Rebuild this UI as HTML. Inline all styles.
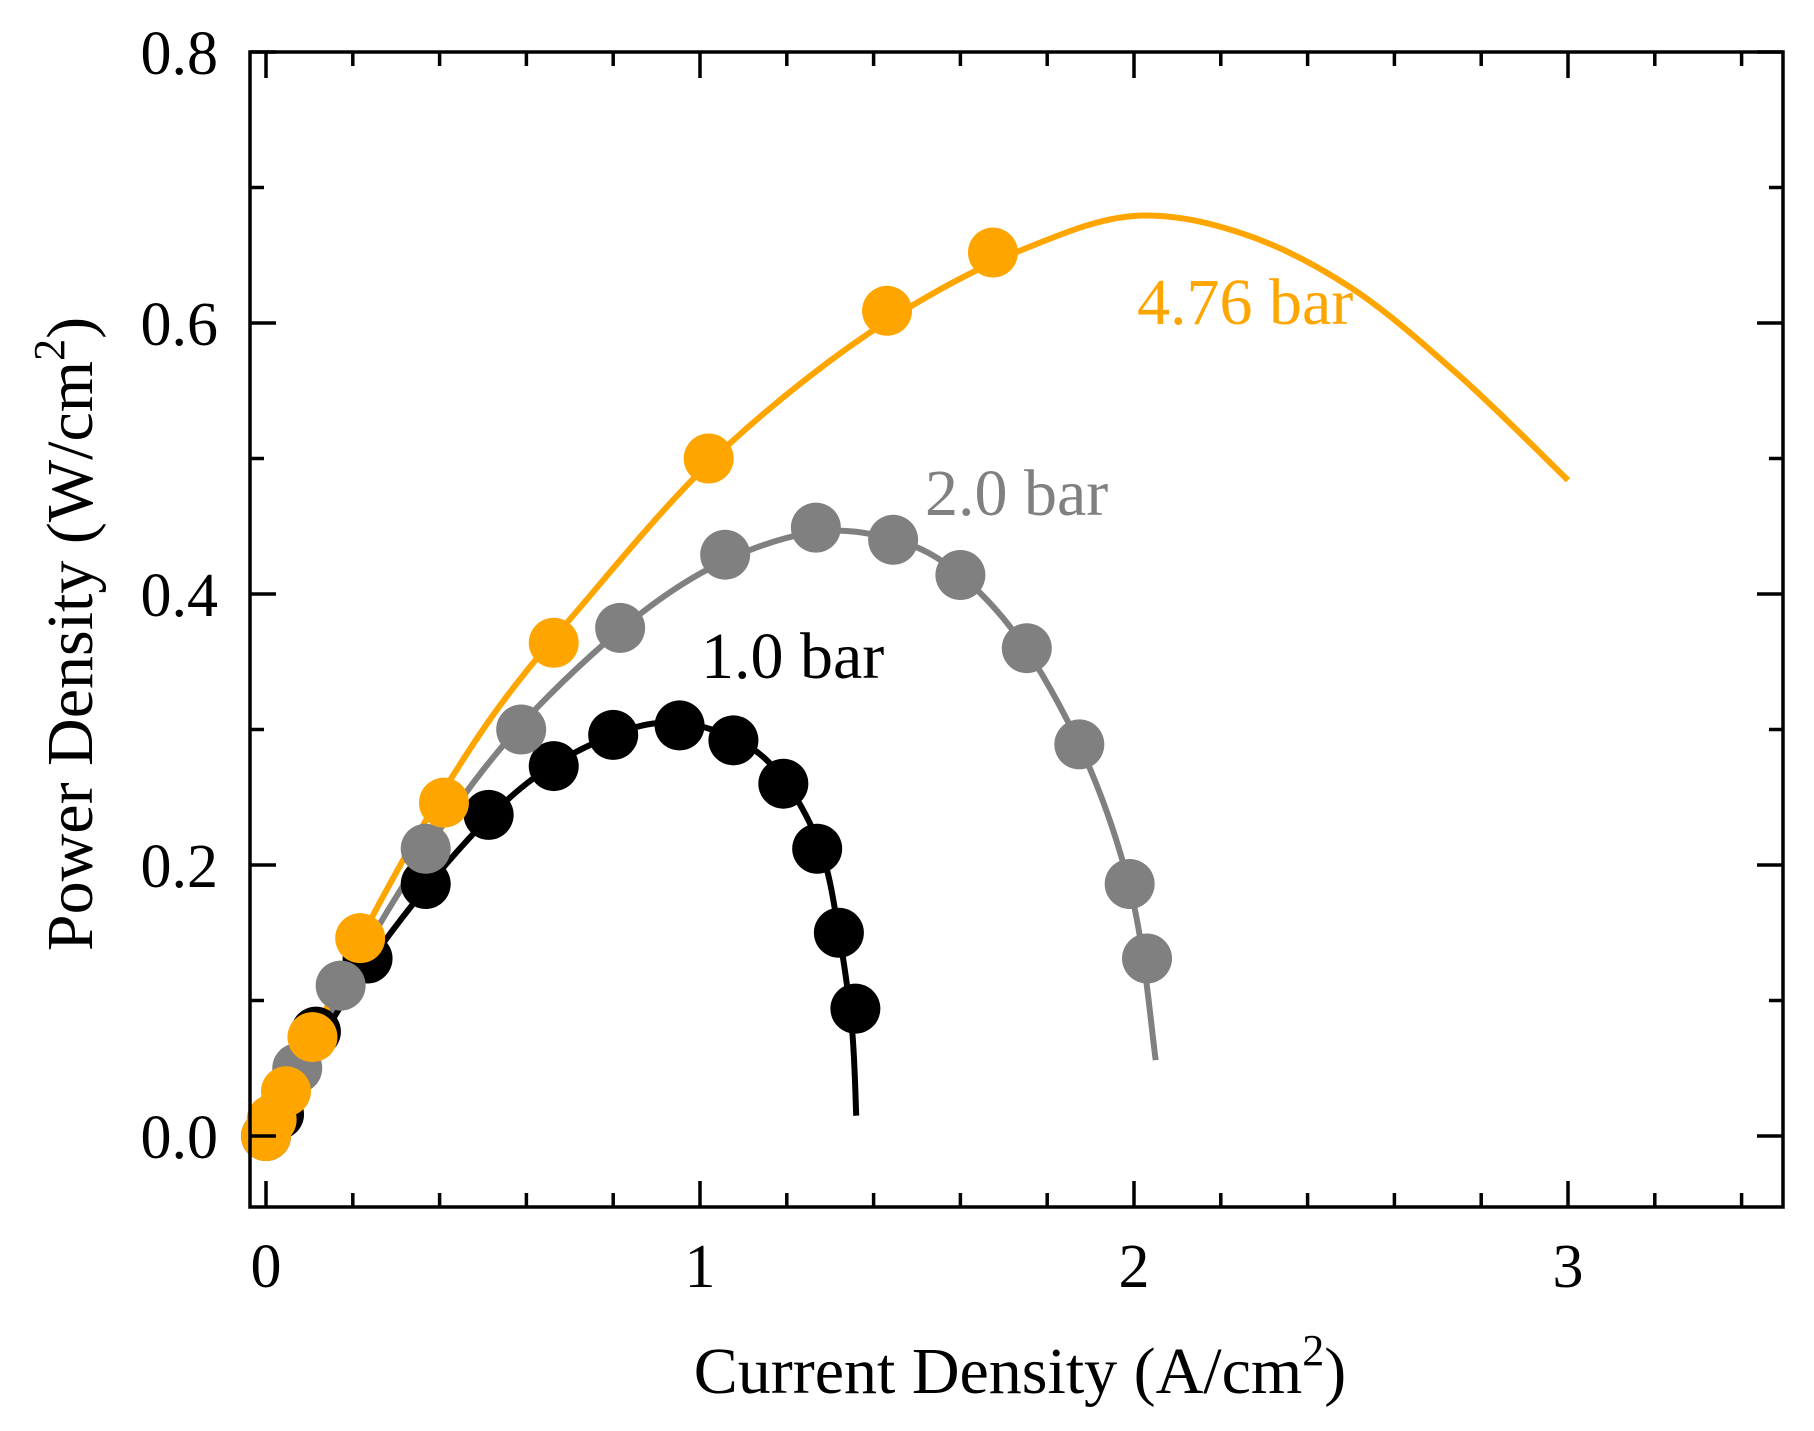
<!DOCTYPE html>
<html><head><meta charset="utf-8"><style>
html,body{margin:0;padding:0;background:#fff}
svg{display:block}
text{font-family:"Liberation Serif",serif}
</style></head><body>
<svg id="chart" width="1814" height="1431" viewBox="0 0 1814 1431" xmlns="http://www.w3.org/2000/svg">
<g id="curves"></g>
<g id="points"></g>
<g id="axes"></g>
<text x="1137" y="324" font-size="66" fill="#FFA500">4.76 bar</text>
<text x="925" y="515" font-size="66" fill="#808080">2.0 bar</text>
<text x="701" y="678" font-size="66" fill="#000">1.0 bar</text>
<text x="1020" y="1393" font-size="66" text-anchor="middle">Current Density (A/cm<tspan font-size="44" dy="-28">2</tspan><tspan dy="28">)</tspan></text>
<text transform="translate(92,634) rotate(-90)" font-size="66" text-anchor="middle">Power Density (W/cm<tspan font-size="44" dy="-28">2</tspan><tspan dy="28">)</tspan></text>
</svg>
<script>
const xTicks=[0,1,2,3];
const xTickLabels=["0","1","2","3"];
const yTicks=[0,0.2,0.4,0.6,0.8];
const yTickLabels=["0.0","0.2","0.4","0.6","0.8"];
const blackX=[0,0.03,0.115,0.234,0.368,0.513,0.663,0.8,0.953,1.077,1.192,1.27,1.32,1.358];
const blackY=[0,0.016,0.077,0.131,0.186,0.237,0.273,0.296,0.303,0.292,0.26,0.212,0.15,0.094];
const grayX=[0,0.072,0.172,0.368,0.588,0.816,1.058,1.267,1.445,1.6,1.753,1.874,1.99,2.03];
const grayY=[0,0.05,0.111,0.212,0.3,0.375,0.429,0.449,0.44,0.414,0.36,0.289,0.186,0.131];
const orangeX=[0,0.013,0.046,0.107,0.217,0.41,0.663,1.02,1.431,1.675];
const orangeY=[0,0.012,0.033,0.073,0.146,0.246,0.364,0.5,0.609,0.652];
const blackFitX=[0,0.2,0.4,0.6,0.8,0.95,1.1,1.2,1.28,1.32,1.35,1.36];
const blackFitY=[0,0.11,0.195,0.26,0.296,0.305,0.29,0.26,0.21,0.15,0.08,0.015];
const grayFitX=[0,0.25,0.5,0.75,1,1.25,1.45,1.6,1.75,1.9,2,2.05];
const grayFitY=[0,0.15,0.27,0.355,0.415,0.445,0.44,0.414,0.36,0.27,0.17,0.056];
const orangeFitX=[0,0.25,0.5,0.75,1,1.25,1.5,1.75,2,2.25,2.5,2.75,3];
const orangeFitY=[0,0.165,0.3,0.4,0.49,0.56,0.615,0.655,0.679,0.666,0.626,0.561,0.484];

const NS="http://www.w3.org/2000/svg";
const L=250,T=52,R=1783,B=1207;
function sx(v){return 266+434*v;}
function sy(v){return 1136-1355*v;}
function mk(tag,attrs,parent){const e=document.createElementNS(NS,tag);for(const k in attrs)e.setAttribute(k,attrs[k]);parent.appendChild(e);return e;}
const curves=document.getElementById('curves'),points=document.getElementById('points'),axes=document.getElementById('axes');
function pathFrom(xs,ys){
  const p=xs.map((x,i)=>[sx(x),sy(ys[i])]);
  let d=`M${p[0][0]},${p[0][1]}`;
  for(let i=0;i<p.length-1;i++){
    const p0=p[i-1]||p[i],p1=p[i],p2=p[i+1],p3=p[i+2]||p2;
    const c1=[p1[0]+(p2[0]-p0[0])/6,p1[1]+(p2[1]-p0[1])/6];
    const c2=[p2[0]-(p3[0]-p1[0])/6,p2[1]-(p3[1]-p1[1])/6];
    d+=` C${c1[0]},${c1[1]} ${c2[0]},${c2[1]} ${p2[0]},${p2[1]}`;
  }
  return d;
}
const series=[
  {name:'black',color:'#000000',px:blackX,py:blackY,fx:blackFitX,fy:blackFitY},
  {name:'gray',color:'#808080',px:grayX,py:grayY,fx:grayFitX,fy:grayFitY},
  {name:'orange',color:'#FFA500',px:orangeX,py:orangeY,fx:orangeFitX,fy:orangeFitY}
];
series.forEach(s=>{
  const pth=mk('path',{d:pathFrom(s.fx,s.fy),fill:'none',stroke:s.color,'stroke-width':6},curves);
  
  
  s.px.forEach((x,i)=>{
    const c=mk('circle',{cx:sx(x),cy:sy(s.py[i]),r:25,fill:s.color},points);
    
    
  });
});
const frame=mk('rect',{x:L,y:T,width:R-L,height:B-T,fill:'none',stroke:'#000','stroke-width':3.5},axes);


for(let k=0;k<=17;k++){
  const v=k*0.2;const X=sx(v);if(X>R)break;
  const major=k%5===0;const len=major?26:14;
  const t1=mk('line',{x1:X,y1:B,x2:X,y2:B-len,stroke:'#000','stroke-width':3.5},axes);
  
  
  const t2=mk('line',{x1:X,y1:T,x2:X,y2:T+len,stroke:'#000','stroke-width':3.5},axes);
  
  
}
xTicks.forEach((v,i)=>{
  const t=mk('text',{x:sx(v),y:1287,'font-size':62,'text-anchor':'middle'},axes);
  t.textContent=xTickLabels[i];
  
  
});
for(let k=0;k<=8;k++){
  const v=k*0.1;const Y=sy(v);
  const major=k%2===0;const len=major?26:14;
  const t1=mk('line',{x1:L,y1:Y,x2:L+len,y2:Y,stroke:'#000','stroke-width':3.5},axes);
  
  
  const t2=mk('line',{x1:R,y1:Y,x2:R-len,y2:Y,stroke:'#000','stroke-width':3.5},axes);
  
  
}
yTicks.forEach((v,i)=>{
  const t=mk('text',{x:218,y:sy(v)+22,'font-size':62,'text-anchor':'end'},axes);
  t.textContent=yTickLabels[i];
  
  
});
</script>
</body></html>
